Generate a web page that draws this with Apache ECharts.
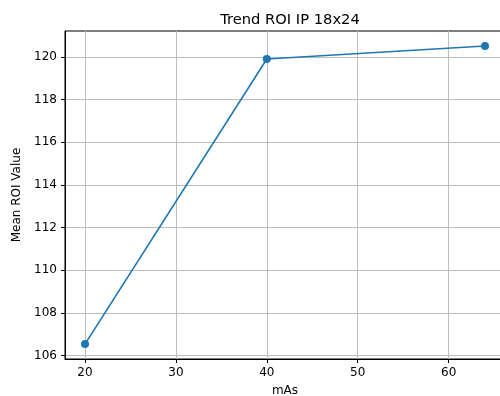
<!DOCTYPE html>
<html>
<head>
<meta charset="utf-8">
<script src="https://cdn.jsdelivr.net/npm/echarts@6/dist/echarts.min.js"></script>
<style>
  html, body { margin: 0; padding: 0; background: #fff; }
  #chart { width: 500px; height: 396px; }
</style>
</head>
<body>
<div id="chart"></div>
<script>
const mas = [20, 40, 64];
const meanRoi = [106.54, 119.9, 120.51];
const xTicks = [20, 30, 40, 50, 60];
const yTicks = [106, 108, 110, 112, 114, 116, 118, 120];

const font = 'DejaVu Sans';
const chart = echarts.init(document.getElementById('chart'));

const option = {
  animation: false,
  backgroundColor: '#fff',
  title: {
    text: 'Trend ROI IP 18x24',
    left: 285,
    textAlign: 'center',
    top: 8,
    textStyle: { fontFamily: font, fontSize: 14.7, fontWeight: 'normal', color: '#000' },
  },
  grid: {
    left: 65,
    top: 31,
    width: 440,
    height: 328,
    outerBoundsMode: 'none',
    containLabel: false,
    show: true,
    borderColor: '#000',
    borderWidth: 1,
    backgroundColor: 'transparent',
  },
  xAxis: {
    type: 'value',
    min: 17.8,
    max: 66.2,
    name: 'mAs',
    nameLocation: 'middle',
    nameGap: 26,
    nameTextStyle: { fontFamily: font, fontSize: 12, color: '#000' },
    axisLine: { show: true, lineStyle: { color: '#000', width: 1 } },
    axisTick: { show: true, inside: false, length: 4, customValues: xTicks, lineStyle: { color: '#000' } },
    axisLabel: { customValues: xTicks, margin: 8, fontFamily: font, fontSize: 12, color: '#000' },
    splitLine: { show: true, lineStyle: { color: '#bdbdbd', width: 1 } },
  },
  yAxis: {
    type: 'value',
    min: 105.84,
    max: 121.21,
    name: 'Mean ROI Value',
    nameLocation: 'middle',
    nameGap: 40,
    nameTextStyle: { fontFamily: font, fontSize: 12, color: '#000' },
    axisLine: { show: true, lineStyle: { color: '#000', width: 1 } },
    axisTick: { show: true, inside: false, length: 4, customValues: yTicks, lineStyle: { color: '#000' } },
    axisLabel: { customValues: yTicks, margin: 8, fontFamily: font, fontSize: 12, color: '#000' },
    splitLine: { show: true, lineStyle: { color: '#bdbdbd', width: 1 } },
  },
  series: [{
    type: 'line',
    data: mas.map((x, i) => [x, meanRoi[i]]),
    symbol: 'circle',
    symbolSize: 8,
    lineStyle: { color: '#1f77b4', width: 1.6 },
    itemStyle: { color: '#1f77b4' },
  }],
};
chart.setOption(option);
</script>
</body>
</html>
